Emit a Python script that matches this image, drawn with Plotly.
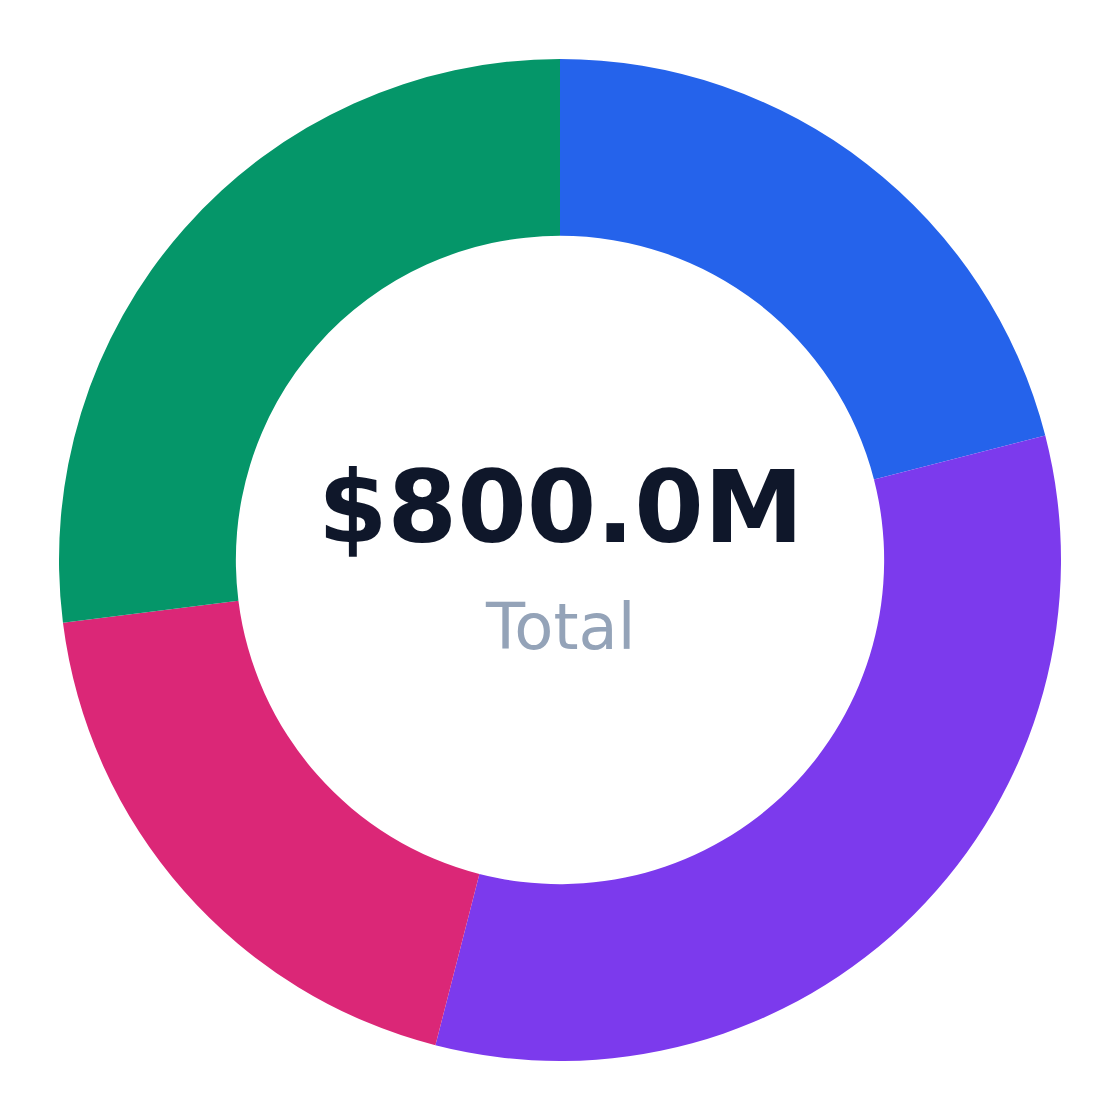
import plotly.graph_objects as go

categories = ["Segment A", "Segment B", "Segment C", "Segment D"]
values = [168, 264, 152, 216]  # $M
colors = ["#2563eb", "#7c3aed", "#db2777", "#059669"]
total_label = "$800.0M"
sub_label = "Total"

fig = go.Figure(go.Pie(
    labels=categories,
    values=values,
    hole=0.647,
    sort=False,
    direction="clockwise",
    rotation=0,
    marker=dict(colors=colors, line=dict(width=0)),
    textinfo="none",
    hoverinfo="label+value+percent",
    showlegend=False,
))

fig.add_annotation(text=f"<b>{total_label}</b>", x=0.5, y=0.552, xref="paper", yref="paper",
                   showarrow=False, font=dict(family="DejaVu Sans", size=100, color="#0f172a"),
                   xanchor="center", yanchor="middle")
fig.add_annotation(text=sub_label, x=0.5, y=0.433, xref="paper", yref="paper",
                   showarrow=False, font=dict(family="DejaVu Sans", size=64, color="#94a3b8"),
                   xanchor="center", yanchor="middle")

fig.update_layout(
    width=1104, height=1104,
    margin=dict(l=51, r=51, t=51, b=51),
    paper_bgcolor="white", plot_bgcolor="white",
)

fig.write_html("out.html")
